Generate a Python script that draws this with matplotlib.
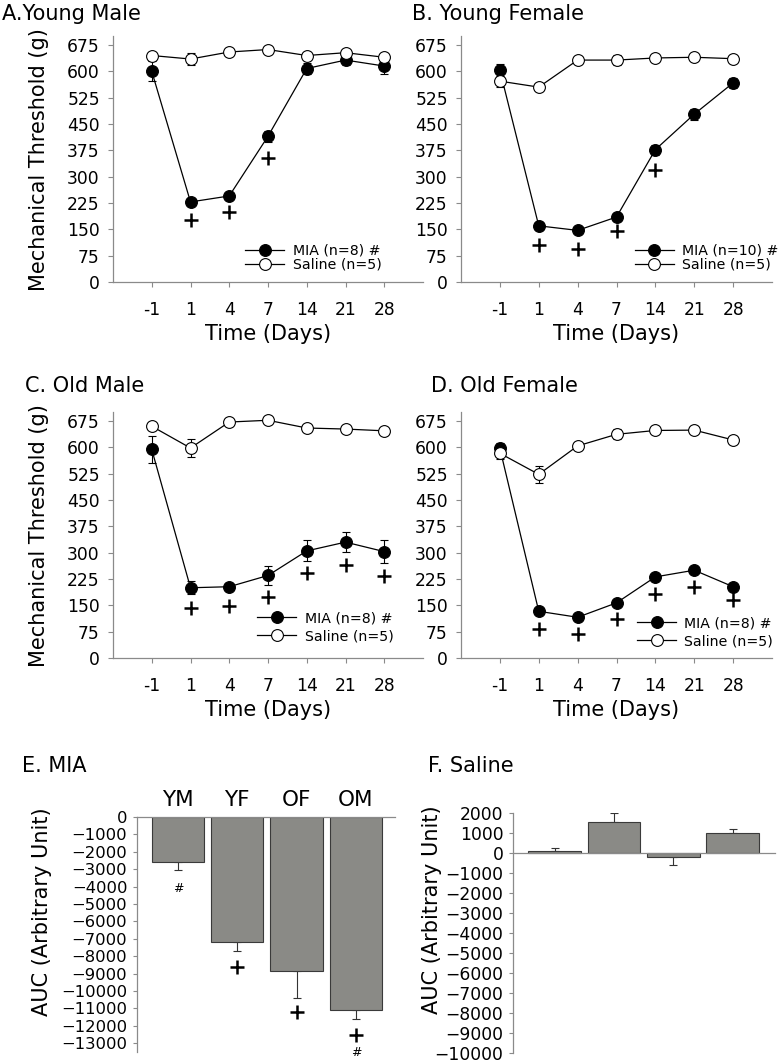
import matplotlib
matplotlib.use('Agg')
import matplotlib.pyplot as plt
import numpy as np

plt.rcParams['font.family'] = ['DejaVu Sans']

# ---------------- data ----------------
days = ['-1', '1', '4', '7', '14', '21', '28']

ym_mia = [600, 228, 245, 415, 608, 632, 615]
ym_mia_err = [28, 10, 8, 16, 15, 15, 22]
ym_sal = [645, 635, 655, 662, 645, 653, 640]
ym_sal_err = [8, 18, 6, 6, 8, 8, 8]
ym_plus = [np.nan, 176, 198, 352, np.nan, np.nan, np.nan]

yf_mia = [603, 160, 147, 185, 377, 478, 567]
yf_mia_err = [18, 12, 8, 12, 14, 16, 14]
yf_sal = [572, 555, 632, 632, 638, 640, 636]
yf_sal_err = [16, 8, 8, 14, 6, 6, 6]
yf_plus = [np.nan, 105, 95, 145, 320, np.nan, np.nan]

om_mia = [594, 200, 203, 235, 305, 330, 303]
om_mia_err = [38, 18, 10, 27, 30, 28, 32]
om_sal = [660, 598, 672, 677, 655, 652, 647]
om_sal_err = [8, 25, 6, 6, 6, 6, 6]
om_plus = [np.nan, 143, 147, 174, 243, 266, 234]

of_mia = [597, 133, 116, 157, 231, 250, 203]
of_mia_err = [16, 8, 6, 8, 8, 8, 8]
of_sal = [583, 523, 604, 637, 648, 649, 621]
of_sal_err = [15, 24, 12, 14, 6, 6, 6]
of_plus = [np.nan, 83, 69, 111, 183, 202, 164]

auc_groups = ['YM', 'YF', 'OF', 'OM']
auc_mia = [-2570, -7170, -8860, -11100]
auc_mia_err = [480, 520, 1520, 480]
auc_mia_plus = [np.nan, -8600, -11200, -12500]
auc_mia_hash = [-4100, np.nan, np.nan, -13550]

auc_sal = [100, 1570, -180, 980]
auc_sal_err = [170, 410, 440, 200]

yticks_thr = [0, 75, 150, 225, 300, 375, 450, 525, 600, 675]
yticks_mia = list(range(0, -13001, -1000))
yticks_sal = list(range(2000, -10001, -1000))

# ---------------- figure ----------------
W, H = 780, 1062
fig = plt.figure(figsize=(W / 100, H / 100), dpi=100)

SPINE = '#8a8a8a'
BAR = '#8a8a86'


def rect(l, t, r, b):
    return [l / W, 1 - b / H, (r - l) / W, (b - t) / H]


def line_panel(ax, mia, mia_err, sal, sal_err, plus, mia_lab, leg_xy, lspace, ylab):
    x = np.arange(len(days))
    ax.errorbar(x, mia, yerr=mia_err, fmt='none', ecolor='black', elinewidth=0.8,
                capsize=2.8, capthick=0.8, zorder=2)
    ax.errorbar(x, sal, yerr=sal_err, fmt='none', ecolor='black', elinewidth=0.8,
                capsize=2.8, capthick=0.8, zorder=2)
    l1, = ax.plot(x, mia, '-o', color='black', lw=0.9, ms=8.5, mfc='black',
                  mec='black', mew=0.8, zorder=3, label=mia_lab)
    l2, = ax.plot(x, sal, '-o', color='black', lw=0.9, ms=8.5, mfc='white',
                  mec='black', mew=0.8, zorder=4, label='Saline (n=5)')
    ax.plot(x, plus, linestyle='none', marker='+', ms=10, mew=1.8, color='black', zorder=5)
    ax.set_xlim(-1, 7)
    ax.set_ylim(0, 700)
    ax.set_xticks(x)
    ax.set_xticklabels(days)
    ax.set_yticks(yticks_thr)
    for s in ['top', 'right']:
        ax.spines[s].set_visible(False)
    for s in ['left', 'bottom']:
        ax.spines[s].set_color(SPINE)
        ax.spines[s].set_linewidth(0.9)
    ax.tick_params(axis='both', direction='out', length=3.5, width=0.8, color=SPINE,
                   labelsize=12.3)
    ax.tick_params(axis='y', pad=6)
    ax.tick_params(axis='x', pad=10)
    ax.set_xlabel('Time (Days)', fontsize=15, labelpad=4)
    if ylab:
        ax.set_ylabel('Mechanical Threshold (g)', fontsize=15)
        ax.yaxis.set_label_coords(-0.205, 0.5)
    ax.legend(handles=[l1, l2], loc='upper left', bbox_to_anchor=leg_xy, frameon=False,
              fontsize=10.2, borderaxespad=0, borderpad=0, handlelength=2.75,
              handletextpad=0.6, labelspacing=lspace)


axA = fig.add_axes(rect(113, 36.2, 423, 282))
line_panel(axA, ym_mia, ym_mia_err, ym_sal, ym_sal_err, ym_plus, 'MIA (n=8) #',
           (0.426, 0.155), 0.0, True)
axB = fig.add_axes(rect(461, 36.2, 772, 282))
line_panel(axB, yf_mia, yf_mia_err, yf_sal, yf_sal_err, yf_plus, 'MIA (n=10) #',
           (0.559, 0.155), 0.0, False)
axC = fig.add_axes(rect(113, 412.2, 423, 658))
line_panel(axC, om_mia, om_mia_err, om_sal, om_sal_err, om_plus, 'MIA (n=8) #',
           (0.465, 0.19), 0.28, True)
axD = fig.add_axes(rect(461, 412.2, 772, 658))
line_panel(axD, of_mia, of_mia_err, of_sal, of_sal_err, of_plus, 'MIA (n=8) #',
           (0.566, 0.17), 0.28, False)

# ---------------- panel E ----------------
axE = fig.add_axes(rect(137, 817, 395, 1052))
xe = np.arange(len(auc_groups))
axE.bar(xe, auc_mia, width=0.88, color=BAR, edgecolor='#3a3a3a', linewidth=0.8, zorder=2)
axE.errorbar(xe, auc_mia, yerr=[auc_mia_err, [0] * 4], fmt='none', ecolor='#333333',
             elinewidth=0.8, capsize=2.8, capthick=0.8, zorder=1)
axE.plot(xe, auc_mia_plus, linestyle='none', marker='+', ms=10, mew=1.8, color='black',
         clip_on=False)
for xi, yi in zip(xe, auc_mia_hash):
    if not np.isnan(yi):
        axE.text(xi, yi, '#', ha='center', va='center', fontsize=9, clip_on=False)
axE.set_xlim(-0.69, 3.66)
axE.set_ylim(-13500, 0)
axE.set_yticks(yticks_mia)
axE.xaxis.tick_top()
axE.set_xticks(xe)
axE.set_xticklabels(auc_groups)
axE.tick_params(axis='x', length=0, pad=5, labelsize=15.5)
axE.tick_params(axis='y', direction='out', length=3, width=0.8, color=SPINE,
                labelsize=11.8, pad=4)
for s in ['bottom', 'right']:
    axE.spines[s].set_visible(False)
for s in ['left', 'top']:
    axE.spines[s].set_color(SPINE)
    axE.spines[s].set_linewidth(0.9)
axE.set_ylabel('AUC (Arbitrary Unit)', fontsize=15)
axE.yaxis.set_label_coords(-0.33, 0.596)

# ---------------- panel F ----------------
axF = fig.add_axes(rect(513, 813, 775, 1053))
xf = np.arange(len(auc_groups))
sal_lo = [e if v < 0 else 0 for v, e in zip(auc_sal, auc_sal_err)]
sal_hi = [e if v >= 0 else 0 for v, e in zip(auc_sal, auc_sal_err)]
axF.bar(xf, auc_sal, width=0.89, color=BAR, edgecolor='#3a3a3a', linewidth=0.8, zorder=2)
axF.errorbar(xf, auc_sal, yerr=[sal_lo, sal_hi], fmt='none', ecolor='#333333',
             elinewidth=0.8, capsize=2.8, capthick=0.8, zorder=1)
axF.set_xlim(-0.70, 3.71)
axF.set_ylim(-10000, 2000)
axF.set_yticks(yticks_sal)
axF.set_xticks([])
axF.spines['bottom'].set_position(('data', 0))
for s in ['top', 'right']:
    axF.spines[s].set_visible(False)
for s in ['left', 'bottom']:
    axF.spines[s].set_color(SPINE)
    axF.spines[s].set_linewidth(0.9)
axF.tick_params(axis='y', direction='out', length=3, width=0.8, color=SPINE,
                labelsize=12.3, pad=4)
axF.set_ylabel('AUC (Arbitrary Unit)', fontsize=15)
axF.yaxis.set_label_coords(-0.271, 0.596)

# ---------------- titles ----------------
def title(x, y, s):
    fig.text(x / W, 1 - y / H, s, fontsize=15, ha='left', va='baseline')

title(2, 20, 'A.Young Male')
title(412, 20, 'B. Young Female')
title(25, 392, 'C. Old Male')
title(431, 392, 'D. Old Female')
title(22, 772, 'E. MIA')
title(428, 772, 'F. Saline')

fig.savefig('out.png', dpi=100)
